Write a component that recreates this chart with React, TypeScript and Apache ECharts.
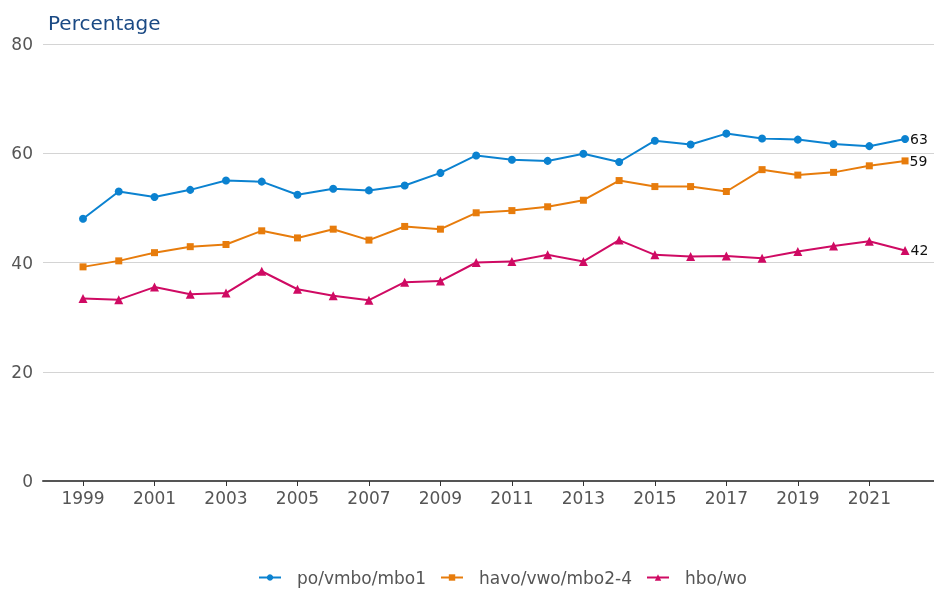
import React, { useEffect, useRef } from "react";
import * as echarts from "echarts";

const years = [1999, 2000, 2001, 2002, 2003, 2004, 2005, 2006, 2007, 2008, 2009, 2010, 2011, 2012, 2013, 2014, 2015, 2016, 2017, 2018, 2019, 2020, 2021, 2022];
const tickYears = [1999, 2001, 2003, 2005, 2007, 2009, 2011, 2013, 2015, 2017, 2019, 2021];
const seriesNames = ["po/vmbo/mbo1", "havo/vwo/mbo2-4", "hbo/wo"];
const poVmbo = [48.0, 53.0, 52.0, 53.3, 55.0, 54.8, 52.4, 53.5, 53.2, 54.1, 56.4, 59.6, 58.8, 58.6, 59.9, 58.4, 62.3, 61.6, 63.6, 62.7, 62.5, 61.7, 61.3, 62.6];
const havoVwo = [39.2, 40.3, 41.8, 42.9, 43.3, 45.8, 44.5, 46.1, 44.1, 46.6, 46.1, 49.1, 49.5, 50.2, 51.4, 55.0, 53.9, 53.9, 53.0, 57.0, 56.0, 56.5, 57.7, 58.6];
const hboWo = [33.4, 33.2, 35.5, 34.2, 34.4, 38.4, 35.1, 33.9, 33.1, 36.4, 36.6, 40.0, 40.2, 41.4, 40.2, 44.1, 41.4, 41.1, 41.2, 40.8, 42.0, 43.0, 43.9, 42.2];
const colors = ["#0b82d0", "#e77c0c", "#cf0a63"];
const symbols = ["circle", "rect", "triangle"];
const symbolSizes = [8, 7, 9];

const FONT = "DejaVu Sans";

export default function App() {
  const ref = useRef<HTMLDivElement>(null);
  useEffect(() => {
    if (!ref.current) return;
    const chart = echarts.init(ref.current, undefined, { renderer: "svg" });
    const all = [poVmbo, havoVwo, hboWo];
    const series = all.map((vals, si) => ({
      type: "line",
      name: seriesNames[si],
      color: colors[si],
      symbol: symbols[si],
      symbolSize: symbolSizes[si],
      showAllSymbol: true,
      lineStyle: { width: 2, color: colors[si] },
      itemStyle: { color: colors[si] },
      data: vals.map((v, i) => {
        const item: any = { value: [years[i], v] };
        if (i === vals.length - 1) {
          item.label = {
            show: true,
            position: "right",
            distance: 1,
            formatter: () => String(Math.round(v)),
            color: "#111",
            fontSize: 14,
            fontFamily: FONT,
          };
        }
        return item;
      }),
    }));
    chart.setOption({
      animation: false,
      textStyle: { fontFamily: FONT },
      title: {
        text: "Percentage",
        left: 43,
        top: 8,
        textStyle: { color: "#1b4a84", fontSize: 20, fontWeight: "normal", fontFamily: FONT },
      },
      legend: {
        bottom: 4,
        left: 258,
        padding: 0,
        itemWidth: 22,
        itemHeight: 8,
        itemGap: 14,
        textStyle: { color: "#555", fontSize: 17, fontFamily: FONT, padding: [0, 0, 0, 11] },
        data: seriesNames,
      },
      grid: { left: 43, right: 0, top: 44, bottom: 109, containLabel: false },
      xAxis: {
        type: "value",
        min: 1997.88,
        max: 2022.81,
        splitLine: { show: false },
        axisLine: { show: true, onZero: false, lineStyle: { color: "#555", width: 2 } },
        axisTick: { show: true, customValues: tickYears, length: 5, lineStyle: { color: "#333", width: 1 } },
        axisLabel: {
          customValues: tickYears,
          formatter: (v: number) => String(v),
          color: "#555",
          fontSize: 17,
          fontFamily: FONT,
          margin: 8,
        },
      },
      yAxis: {
        type: "value",
        min: 0,
        max: 80,
        interval: 20,
        axisLine: { show: false },
        axisTick: { show: false },
        splitLine: { lineStyle: { color: "#d4d4d4", width: 1 } },
        axisLabel: { color: "#555", fontSize: 17, fontFamily: FONT, margin: 10 },
      },
      series,
    });
    return () => chart.dispose();
  }, []);
  return (
    <div
      ref={ref}
      style={{ position: "fixed", left: 0, top: 0, width: 934, height: 590 }}
    />
  );
}
